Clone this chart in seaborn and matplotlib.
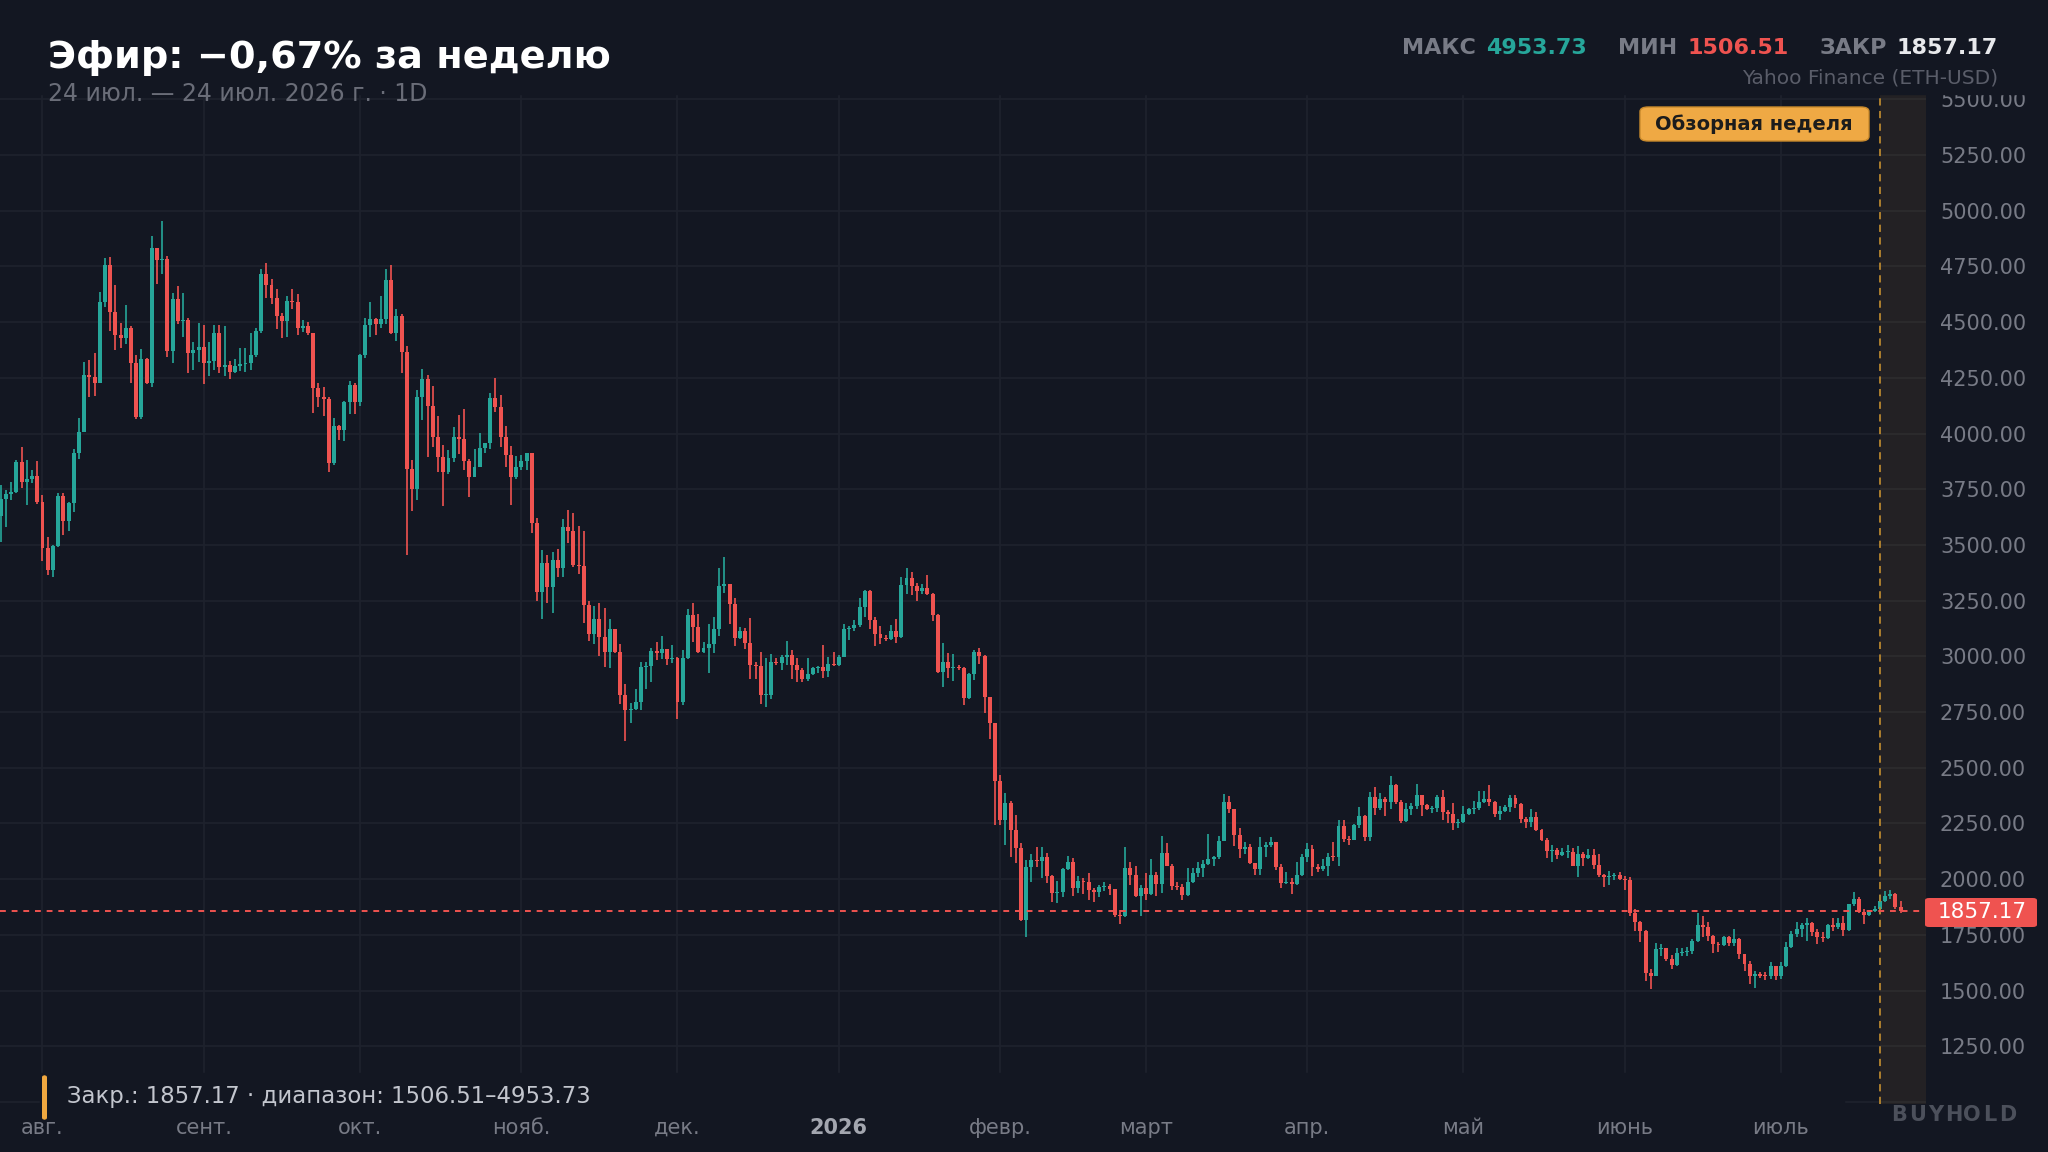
import numpy as np
import pandas as pd
import matplotlib
matplotlib.use("Agg")
import matplotlib.pyplot as plt
import matplotlib.dates as mdates
from matplotlib.patches import Rectangle, FancyBboxPatch
import seaborn as sns

# ---------------- data (ETH-USD daily) ----------------
START_DATE = "2025-07-24"
FIRST_OPEN = 3631
closes = [
    3706, 3729, 3739, 3874, 3784, 3794, 3809, 3694, 3485, 3387,
    3497, 3720, 3609, 3687, 3911, 4008, 4263, 4252, 4228, 4592,
    4756, 4547, 4442, 4427, 4472, 4315, 4073, 4333, 4225, 4831,
    4779, 4782, 4372, 4602, 4506, 4509, 4360, 4375, 4390, 4315,
    4325, 4450, 4300, 4306, 4278, 4304, 4310, 4315, 4351, 4462,
    4716, 4667, 4607, 4527, 4506, 4596, 4591, 4472, 4482, 4450,
    4203, 4165, 4153, 3866, 4034, 4016, 4140, 4218, 4143, 4352,
    4487, 4514, 4492, 4514, 4689, 4450, 4527, 4367, 3839, 3749,
    4165, 4243, 4123, 3986, 3893, 3829, 3889, 3983, 3975, 3878,
    3806, 3851, 3934, 3956, 4158, 4118, 3983, 3904, 3803, 3848,
    3878, 3911, 3600, 3290, 3420, 3310, 3432, 3395, 3582, 3564,
    3410, 3407, 3230, 3100, 3166, 3088, 3021, 3121, 3018, 2826,
    2759, 2765, 2797, 2951, 2957, 3025, 3013, 3031, 2986, 2991,
    2797, 2991, 3186, 3130, 3021, 3036, 3056, 3121, 3317, 3323,
    3233, 3081, 3115, 3058, 2961, 2957, 2826, 2826, 2976, 2971,
    2998, 3006, 2961, 2941, 2897, 2921, 2946, 2951, 2936, 2968,
    2961, 2998, 3121, 3128, 3139, 3223, 3295, 3163, 3100, 3081,
    3076, 3115, 3085, 3320, 3350, 3316, 3295, 3305, 3280, 3186,
    2931, 2976, 2946, 2951, 2946, 2811, 2921, 3021, 3001, 2816,
    2699, 2440, 2265, 2340, 2220, 2138, 1817, 2056, 2086, 2081,
    2101, 2014, 1936, 1944, 2044, 2078, 1959, 1993, 1989, 1951,
    1944, 1963, 1969, 1954, 1839, 1834, 2049, 2019, 1923, 1961,
    1935, 2019, 1979, 2119, 2060, 1971, 1963, 1929, 1988, 2029,
    2049, 2069, 2089, 2098, 2173, 2348, 2313, 2199, 2134, 2143,
    2071, 2044, 2146, 2153, 2165, 2054, 1983, 1988, 1978, 2019,
    2101, 2134, 2054, 2044, 2058, 2101, 2098, 2238, 2179, 2176,
    2243, 2284, 2191, 2370, 2321, 2358, 2346, 2421, 2346, 2261,
    2313, 2328, 2376, 2331, 2316, 2321, 2370, 2301, 2291, 2251,
    2257, 2291, 2313, 2321, 2346, 2358, 2346, 2291, 2306, 2325,
    2365, 2336, 2272, 2257, 2281, 2221, 2176, 2127, 2130, 2108,
    2122, 2124, 2060, 2112, 2097, 2108, 2063, 2018, 2008, 2015,
    2018, 2000, 1997, 1850, 1809, 1769, 1579, 1567, 1687, 1690,
    1642, 1615, 1669, 1672, 1679, 1724, 1794, 1784, 1746, 1709,
    1704, 1739, 1712, 1731, 1664, 1619, 1567, 1575, 1567, 1565,
    1609, 1567, 1609, 1694, 1754, 1776, 1794, 1803, 1764, 1739,
    1734, 1794, 1784, 1803, 1774, 1888, 1913, 1854, 1839, 1858,
    1868, 1903, 1925, 1933, 1873, 1857.17,
]
highs = [
    3769, 3746, 3784, 3881, 3941, 3881, 3836, 3877, 3724, 3534,
    3500, 3735, 3735, 3694, 3929, 4068, 4322, 4330, 4363, 4637,
    4786, 4791, 4667, 4494, 4577, 4484, 4352, 4378, 4340, 4886,
    4835, 4953.73, 4798, 4632, 4662, 4629, 4517, 4412, 4497, 4487,
    4412, 4487, 4487, 4483, 4327, 4333, 4382, 4382, 4453, 4472,
    4737, 4767, 4692, 4647, 4539, 4617, 4647, 4626, 4509, 4502,
    4453, 4225, 4207, 4165, 4068, 4040, 4145, 4236, 4228, 4355,
    4517, 4592, 4517, 4617, 4737, 4756, 4557, 4535, 4394, 3881,
    4195, 4292, 4263, 4213, 4079, 3948, 3926, 4028, 4083, 4109,
    3884, 3929, 4001, 3959, 4180, 4251, 4173, 4034, 3944, 3899,
    3904, 3915, 3915, 3620, 3477, 3455, 3470, 3480, 3615, 3657,
    3642, 3585, 3562, 3248, 3226, 3241, 3215, 3166, 3125, 3056,
    2876, 2792, 2852, 2976, 2976, 3036, 3066, 3091, 3035, 3051,
    2995, 3028, 3211, 3238, 3190, 3066, 3145, 3175, 3395, 3444,
    3327, 3260, 3130, 3126, 3173, 2976, 3021, 2991, 3010, 2991,
    3006, 3070, 3028, 2991, 2946, 2991, 2954, 2957, 3051, 2998,
    3021, 3006, 3145, 3136, 3163, 3260, 3300, 3298, 3178, 3136,
    3095, 3139, 3166, 3355, 3395, 3380, 3330, 3327, 3365, 3283,
    3190, 3061, 3013, 3010, 2961, 2951, 2924, 3028, 3039, 3005,
    2819, 2702, 2467, 2388, 2352, 2288, 2161, 2086, 2113, 2143,
    2143, 2116, 2019, 1993, 2048, 2104, 2093, 2014, 2004, 2029,
    1960, 1974, 1988, 1978, 1958, 1861, 2143, 2079, 2059, 1975,
    2028, 2089, 2034, 2194, 2161, 2069, 1988, 1978, 2049, 2049,
    2079, 2086, 2202, 2104, 2194, 2382, 2373, 2315, 2228, 2168,
    2158, 2074, 2191, 2168, 2191, 2168, 2066, 2034, 2007, 2079,
    2113, 2161, 2153, 2066, 2089, 2119, 2168, 2265, 2265, 2194,
    2247, 2325, 2287, 2391, 2415, 2385, 2370, 2465, 2425, 2355,
    2343, 2343, 2425, 2380, 2336, 2328, 2380, 2400, 2310, 2343,
    2272, 2328, 2321, 2351, 2395, 2395, 2421, 2351, 2328, 2331,
    2380, 2380, 2340, 2281, 2313, 2301, 2224, 2186, 2152, 2142,
    2142, 2152, 2142, 2147, 2122, 2137, 2137, 2112, 2023, 2037,
    2027, 2033, 2015, 2012, 1866, 1813, 1772, 1597, 1713, 1709,
    1692, 1660, 1690, 1690, 1694, 1731, 1848, 1836, 1806, 1749,
    1716, 1746, 1746, 1776, 1734, 1666, 1634, 1590, 1582, 1585,
    1627, 1612, 1627, 1716, 1769, 1806, 1803, 1828, 1809, 1776,
    1761, 1798, 1824, 1824, 1836, 1890, 1943, 1918, 1866, 1863,
    1881, 1928, 1948, 1952, 1937, 1903,
]
lows = [
    3515, 3582, 3702, 3732, 3754, 3679, 3776, 3684, 3429, 3365,
    3355, 3489, 3545, 3564, 3649, 3884, 4008, 4165, 4168, 4225,
    4566, 4462, 4375, 4382, 4402, 4228, 4065, 4064, 4222, 4210,
    4671, 4716, 4345, 4315, 4491, 4435, 4270, 4285, 4322, 4222,
    4258, 4285, 4270, 4258, 4243, 4273, 4282, 4278, 4285, 4345,
    4453, 4610, 4581, 4468, 4427, 4432, 4557, 4442, 4457, 4442,
    4091, 4120, 4079, 3829, 3860, 3971, 3968, 4087, 4090, 4123,
    4337, 4432, 4442, 4472, 4492, 4447, 4417, 4273, 3455, 3652,
    3702, 4061, 3896, 3941, 3829, 3675, 3818, 3874, 3908, 3836,
    3714, 3803, 3848, 3911, 3929, 4098, 3941, 3851, 3679, 3794,
    3836, 3836, 3555, 3250, 3166, 3241, 3193, 3355, 3355, 3507,
    3402, 3370, 3151, 3070, 3055, 3002, 2951, 2946, 3013, 2786,
    2621, 2699, 2759, 2759, 2852, 2886, 2983, 2987, 2961, 2971,
    2717, 2781, 2986, 3066, 3013, 3013, 2927, 3013, 3091, 3283,
    3145, 3046, 3076, 3031, 2897, 2897, 2786, 2774, 2807, 2961,
    2941, 2961, 2897, 2886, 2886, 2891, 2916, 2924, 2901, 2909,
    2956, 2956, 2995, 3073, 3115, 3130, 3178, 3121, 3046, 3055,
    3070, 3072, 3061, 3082, 3280, 3275, 3250, 3280, 3275, 3160,
    2924, 2864, 2901, 2891, 2939, 2781, 2807, 2894, 2968, 2747,
    2627, 2243, 2243, 2153, 2101, 2071, 1814, 1742, 1989, 2056,
    2004, 1984, 1899, 1891, 1921, 2041, 1924, 1936, 1933, 1906,
    1899, 1918, 1948, 1929, 1831, 1798, 1830, 1972, 1920, 1833,
    1908, 1930, 1925, 1940, 2057, 1950, 1950, 1908, 1925, 1981,
    2011, 2011, 2064, 2057, 2089, 2170, 2298, 2150, 2094, 2115,
    2068, 2019, 2019, 2098, 2143, 2041, 1962, 1980, 1933, 1974,
    2014, 2079, 2014, 2034, 2038, 2014, 2083, 2059, 2168, 2153,
    2176, 2231, 2172, 2172, 2287, 2310, 2284, 2313, 2336, 2251,
    2257, 2287, 2313, 2284, 2310, 2295, 2301, 2266, 2251, 2221,
    2231, 2251, 2287, 2291, 2310, 2340, 2328, 2281, 2266, 2301,
    2301, 2321, 2251, 2231, 2236, 2218, 2172, 2097, 2075, 2090,
    2102, 2097, 2057, 2008, 2060, 2090, 2045, 2012, 1963, 1973,
    1997, 1995, 1953, 1836, 1769, 1717, 1545, 1506.51, 1564, 1657,
    1634, 1597, 1612, 1657, 1657, 1664, 1716, 1739, 1724, 1669,
    1674, 1701, 1699, 1702, 1642, 1589, 1530, 1510, 1555, 1549,
    1552, 1549, 1552, 1604, 1690, 1739, 1739, 1724, 1743, 1709,
    1719, 1731, 1769, 1776, 1746, 1769, 1880, 1848, 1799, 1836,
    1854, 1843, 1898, 1911, 1866, 1848,
]
month_labels = ["авг.", "сент.", "окт.", "нояб.", "дек.", "2026",
                "февр.", "март", "апр.", "май", "июнь", "июль"]
y_tick_values = list(range(1000, 5501, 250))
REVIEW_START = "2026-07-20"
LAST_CLOSE = 1857.17
MAX_PRICE = 4953.73
MIN_PRICE = 1506.51
TITLE = "Эфир: −0,67% за неделю"
SUBTITLE = "24 июл. — 24 июл. 2026 г. · 1D"
SOURCE = "Yahoo Finance (ETH-USD)"
BADGE = "Обзорная неделя"
FOOTER = "Закр.: 1857.17 · диапазон: 1506.51–4953.73"
BRAND = "BUYHOLD"

# ---------------- style ----------------
BG = "#131722"
GRID = "#1e222d"
TEAL = "#26a69a"
RED = "#ef5350"
ORANGE = "#f0a840"
GREY = "#787b86"

sns.set_theme(style="dark", rc={
    "axes.facecolor": BG, "figure.facecolor": BG,
    "axes.edgecolor": BG, "grid.color": GRID,
    "text.color": "white",
})
plt.rcParams["font.family"] = ["DejaVu Sans"]

W, H = 2048, 1152
fig = plt.figure(figsize=(W / 100, H / 100), dpi=100)

def fx(px):
    return px / W

def fy(py):
    return 1 - py / H

ax = fig.add_axes([0, fy(1104), fx(1926), fy(94) - fy(1104)])
ax.set_facecolor(BG)

dates = pd.date_range(START_DATE, periods=len(closes), freq="D")
xd = mdates.date2num(dates)
c = np.array(closes, dtype=float)
o = np.r_[FIRST_OPEN, c[:-1]]
hi = np.array(highs, dtype=float)
lo = np.array(lows, dtype=float)
up = c >= o
cols = np.where(up, TEAL, RED)

top = np.maximum(np.maximum(o, c), hi)
bot = np.minimum(np.minimum(o, c), lo)
ax.vlines(xd, bot, top, colors=cols, lw=1.2, zorder=3)
body_b = np.minimum(o, c)
body_h = np.maximum(np.abs(c - o), 5.0)
ax.bar(xd, body_h, bottom=body_b, width=0.76, color=cols, linewidth=0, zorder=4)

# limits
x0 = mdates.date2num(pd.Timestamp(START_DATE)) - 0.165
x1 = mdates.date2num(pd.Timestamp(START_DATE)) + 369.87
ax.set_xlim(x0, x1)
ax.set_ylim(991, 5524)

# review week shading
rs = mdates.date2num(pd.Timestamp(REVIEW_START))
ax.axvspan(rs, x1, color=ORANGE, alpha=0.075, lw=0, zorder=1)
ax.axvline(rs, color="#b8862f", lw=1.3, ls=(0, (4, 3)), zorder=5)

# last close line
ax.axhline(LAST_CLOSE, color=RED, lw=1.4, ls=(0, (3, 3)), zorder=5)

# ticks
ax.set_yticks(y_tick_values)
ax.set_yticklabels(["" if v == 1000 else f"{v:.2f}" for v in y_tick_values])
ax.yaxis.tick_right()
ax.tick_params(axis="y", length=0, pad=10, labelsize=15, labelcolor=GREY)
month_starts = pd.date_range("2025-08-01", "2026-07-01", freq="MS")
ax.set_xticks(mdates.date2num(month_starts))
ax.set_xticklabels(month_labels)
ax.tick_params(axis="x", length=0, pad=10, labelsize=15, labelcolor=GREY)
for lab in ax.get_xticklabels():
    if lab.get_text() == "2026":
        lab.set_fontweight("bold")
        lab.set_color("#a3a6af")
ax.grid(True, color=GRID, lw=1.2)
ax.set_axisbelow(True)
for s in ax.spines.values():
    s.set_visible(False)

# header cover + footer cover
fig.patches.append(Rectangle((0, fy(94)), 1, 1 - fy(94), transform=fig.transFigure,
                             color=BG, zorder=5))
fig.patches.append(Rectangle((fx(40), fy(1108)), fx(1844) - fx(40), fy(1073) - fy(1108),
                             transform=fig.transFigure, color=BG, zorder=5))

# title / subtitle
fig.text(fx(48), fy(68), TITLE, fontsize=27.5, fontweight="bold", color="white",
         va="baseline", ha="left", zorder=7)
fig.text(fx(48), fy(101), SUBTITLE, fontsize=17, color="#6a6d78",
         va="baseline", ha="left", zorder=7)

# stats (right-aligned sequence, placed right to left)
fig.canvas.draw()
renderer = fig.canvas.get_renderer()
parts = [("МАКС", GREY), (f"{MAX_PRICE:.2f}", TEAL),
         ("МИН", GREY), (f"{MIN_PRICE:.2f}", RED),
         ("ЗАКР", GREY), (f"{LAST_CLOSE:.2f}", "#e8e9ec")]
cur = 1998
for txt, colr in reversed(parts):
    t = fig.text(fx(cur), fy(54), txt, fontsize=16, fontweight="bold", color=colr,
                 ha="right", va="baseline", zorder=7)
    wpx = t.get_window_extent(renderer).width
    gap = 10 if colr != GREY else 31
    cur = cur - wpx - gap

fig.text(fx(1998), fy(84), SOURCE, fontsize=14.5, color="#5a5d69",
         ha="right", va="baseline", zorder=7)

# badge
badge = FancyBboxPatch((fx(1640), fy(141)), fx(1869) - fx(1640), fy(107) - fy(141),
                       boxstyle="round,pad=0,rounding_size=0.004",
                       transform=fig.transFigure, fc="#efa944", ec="#c98a2c",
                       lw=1, zorder=7)
fig.patches.append(badge)
fig.text(fx(1754), fy(124), BADGE, fontsize=14, fontweight="bold", color="#1c1c1c",
         ha="center", va="center", zorder=8)

# last price box
pbox = FancyBboxPatch((fx(1925), fy(927)), fx(2037) - fx(1925), fy(898) - fy(927),
                      boxstyle="round,pad=0,rounding_size=0.002",
                      transform=fig.transFigure, fc=RED, ec="none", zorder=7)
fig.patches.append(pbox)
fig.text(fx(1982), fy(912.5), f"{LAST_CLOSE:.2f}", fontsize=15.5, color="white",
         ha="center", va="center", zorder=8)

# footer
fbar = FancyBboxPatch((fx(42), fy(1120)), fx(47) - fx(42), fy(1075) - fy(1120),
                      boxstyle="round,pad=0,rounding_size=0.002",
                      transform=fig.transFigure, fc=ORANGE, ec="none", zorder=7)
fig.patches.append(fbar)
fig.text(fx(67), fy(1097), FOOTER, fontsize=16.4, color="#c3c6ce",
         ha="left", va="center", zorder=8)

# brand
bx0, step = 1899, 18.2
for k, ch in enumerate(BRAND):
    fig.text(fx(bx0 + k * step), fy(1115), ch, fontsize=15, fontweight="bold",
             color="#4c505b", ha="center", va="center", zorder=8)

fig.savefig("out.png", dpi=100, facecolor=BG)
